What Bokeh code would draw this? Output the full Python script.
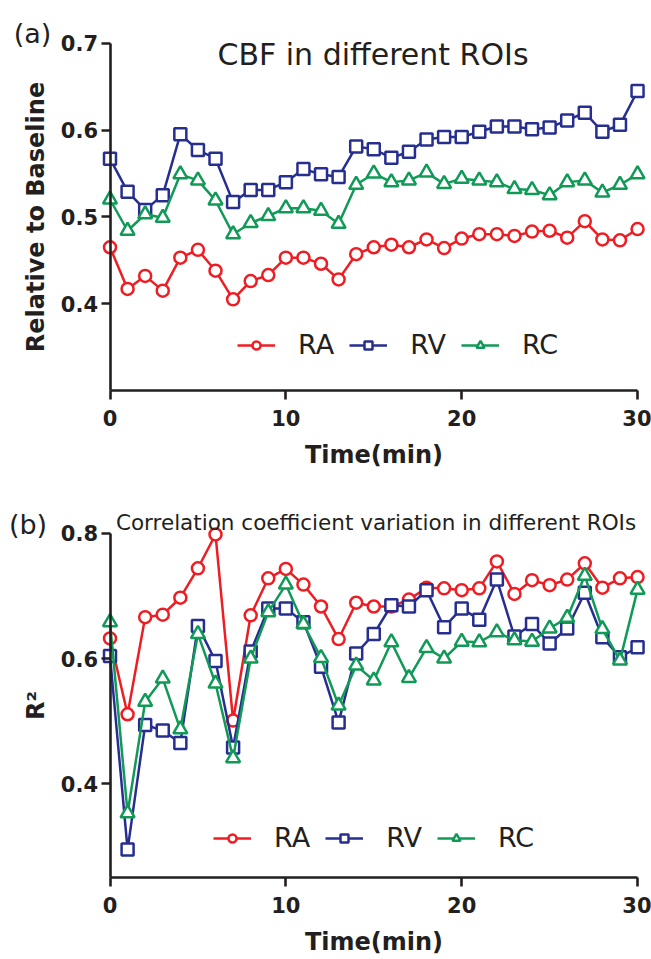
from bokeh.plotting import figure
from bokeh.models import Range1d, FixedTicker, Label, Legend, LegendItem
from bokeh.layouts import column
from bokeh.embed import file_html
from bokeh.resources import INLINE

# ---------------- data ----------------
time_min = list(range(31))

cbf_ra = [0.465, 0.417, 0.432, 0.415, 0.453, 0.462, 0.438, 0.405, 0.426, 0.433, 0.453,
          0.453, 0.446, 0.428, 0.457, 0.465, 0.468, 0.465, 0.474, 0.464, 0.475,
          0.480, 0.480, 0.478, 0.483, 0.484, 0.476, 0.495, 0.474, 0.473, 0.486]
cbf_rv = [0.567, 0.529, 0.508, 0.525, 0.595, 0.577, 0.567, 0.517, 0.531, 0.531, 0.540,
          0.555, 0.549, 0.546, 0.581, 0.578, 0.568, 0.575, 0.589, 0.592, 0.592,
          0.598, 0.604, 0.604, 0.601, 0.603, 0.611, 0.620, 0.598, 0.606, 0.645]
cbf_rc = [0.520, 0.484, 0.503, 0.499, 0.549, 0.542, 0.519, 0.480, 0.493, 0.501, 0.510,
          0.510, 0.507, 0.492, 0.537, 0.550, 0.540, 0.542, 0.551, 0.538, 0.544,
          0.542, 0.540, 0.532, 0.531, 0.525, 0.540, 0.542, 0.528, 0.537, 0.549]

r2_ra = [0.632, 0.511, 0.666, 0.670, 0.697, 0.744, 0.798, 0.501, 0.669, 0.728, 0.743,
         0.718, 0.683, 0.631, 0.689, 0.683, 0.683, 0.694, 0.713, 0.712, 0.709,
         0.712, 0.755, 0.703, 0.725, 0.717, 0.726, 0.752, 0.713, 0.728, 0.730]
r2_rv = [0.604, 0.295, 0.494, 0.485, 0.465, 0.652, 0.596, 0.458, 0.611, 0.680, 0.680,
         0.658, 0.587, 0.498, 0.608, 0.639, 0.685, 0.683, 0.709, 0.650, 0.680,
         0.662, 0.726, 0.635, 0.655, 0.624, 0.648, 0.705, 0.634, 0.602, 0.618]
r2_rc = [0.658, 0.353, 0.531, 0.568, 0.487, 0.639, 0.560, 0.441, 0.600, 0.674, 0.718,
         0.655, 0.601, 0.525, 0.589, 0.565, 0.626, 0.569, 0.617, 0.600, 0.627,
         0.626, 0.642, 0.629, 0.627, 0.648, 0.665, 0.732, 0.647, 0.597, 0.710]

series_names = ["RA", "RV", "RC"]
x_ticks = [0, 10, 20, 30]
cbf_ticks = [0.4, 0.5, 0.6, 0.7]
r2_ticks = [0.4, 0.6, 0.8]

# ---------------- style ----------------
FONT = "DejaVu Sans"
INK = "#231f20"
COLORS = {"RA": "#ee1d23", "RV": "#262e8f", "RC": "#119a57"}
MARKERS = {"RA": "circle", "RV": "square", "RC": "triangle"}
MSIZE = {"RA": 12, "RV": 12, "RC": 14}

X_RANGE = (-6.227, 30.793)


def make_panel(ys, y_range, y_axis_bounds, ticks, ylabel, height, legend_loc):
    p = figure(frame_width=651, frame_height=height,
               x_range=Range1d(*X_RANGE), y_range=Range1d(*y_range),
               output_backend="svg", toolbar_location=None, min_border=0)
    p.outline_line_color = None
    p.grid.visible = False
    p.background_fill_color = "white"
    p.border_fill_color = "white"

    for ax in (p.xaxis[0], p.yaxis[0]):
        ax.axis_line_width = 2.6
        ax.axis_line_color = INK
        ax.major_tick_line_width = 2.6
        ax.major_tick_line_color = INK
        ax.major_tick_out = 9
        ax.major_tick_in = 0
        ax.minor_tick_out = 0
        ax.minor_tick_in = 0
        ax.major_label_text_font = FONT
        ax.major_label_text_font_style = "bold"
        ax.major_label_text_font_size = "21px"
        ax.major_label_text_color = INK
        ax.axis_label_text_font = FONT
        ax.axis_label_text_font_style = "bold"
        ax.axis_label_text_font_size = "24px"
        ax.axis_label_text_color = INK

    xa = p.xaxis[0]
    xa.ticker = FixedTicker(ticks=x_ticks)
    xa.bounds = (0, 30)
    xa.fixed_location = y_axis_bounds[0]
    xa.axis_label = "Time(min)"
    xa.major_label_standoff = 10
    xa.axis_label_standoff = 12

    ya = p.yaxis[0]
    ya.ticker = FixedTicker(ticks=ticks)
    ya.bounds = y_axis_bounds
    ya.fixed_location = 0
    ya.axis_label = ylabel
    ya.major_label_standoff = 3
    ya.axis_label_standoff = 8

    items = []
    for name, y in zip(series_names, ys):
        c = COLORS[name]
        ln = p.line(time_min, y, line_color=c, line_width=2.5)
        sc = p.scatter(time_min, y, marker=MARKERS[name], size=MSIZE[name],
                       line_color=c, line_width=2.5, fill_color="white")
        items.append(LegendItem(label=name, renderers=[ln, sc]))

    lg = Legend(items=items, orientation="horizontal", location=legend_loc,
                padding=0, margin=0, spacing=15, glyph_width=38, glyph_height=20,
                label_standoff=23, label_height=20,
                label_text_font=FONT, label_text_font_size="27px",
                label_text_color=INK, border_line_color=None,
                background_fill_alpha=0)
    p.add_layout(lg)
    return p


p1 = make_panel([cbf_ra, cbf_rv, cbf_rc], (0.20213, 0.74918), (0.3, 0.7), cbf_ticks,
                "Relative to Baseline", 475, (237, 115))
p1.add_layout(Label(x=14.956, y=0.68756, text="CBF in different ROIs",
                    text_font=FONT, text_font_size="30px", text_color=INK,
                    text_align="center", text_baseline="alphabetic"))
p1.add_layout(Label(x=-4.407, y=0.71060, text="(a)",
                    text_font=FONT, text_font_size="27px", text_color=INK,
                    text_align="center", text_baseline="alphabetic"))

p2 = make_panel([r2_ra, r2_rv, r2_rc], (0.12594, 0.89210), (0.25, 0.8), r2_ticks,
                "R²", 480, (213, 102))
p2.add_layout(Label(x=15.127, y=0.81756,
                    text="Correlation coefficient variation in different ROIs",
                    text_font=FONT, text_font_size="21.5px", text_color=INK,
                    text_align="center", text_baseline="alphabetic"))
p2.add_layout(Label(x=-4.663, y=0.81309, text="(b)",
                    text_font=FONT, text_font_size="27px", text_color=INK,
                    text_align="center", text_baseline="alphabetic"))

layout = column(p1, p2, spacing=0)
open("out.html", "w").write(file_html(layout, INLINE))
